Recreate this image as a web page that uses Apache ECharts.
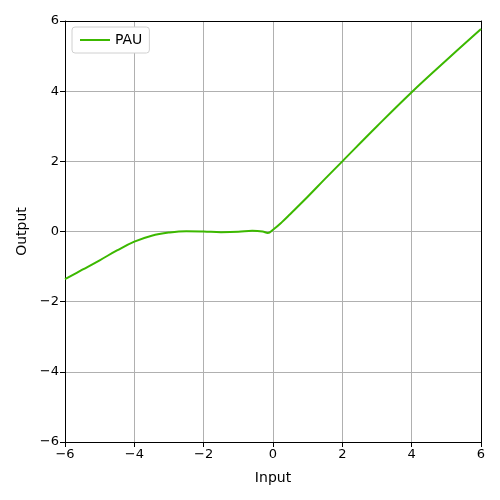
<!DOCTYPE html>
<html>
<head>
<meta charset="utf-8">
<script src="https://cdn.jsdelivr.net/npm/echarts@6/dist/echarts.min.js"></script>
<style>
  html, body { margin: 0; padding: 0; background: #fff; }
  #chart { width: 500px; height: 500px; }
</style>
</head>
<body>
<div id="chart"></div>
<script>
// values
const inputs = [-6, -5.5, -5, -4.5, -4, -3.5, -3, -2.5, -2, -1.5, -1, -0.6, -0.3, -0.15, 0, 0.25, 0.5, 1, 1.5, 2, 3, 4, 5, 6];
const outputs = [-1.36, -1.09, -0.82, -0.54, -0.29, -0.12, -0.03, 0.01, 0.0, -0.02, -0.01, 0.02, 0.0, -0.04, 0.05, 0.26, 0.5, 0.99, 1.5, 2.0, 3.0, 3.97, 4.88, 5.77];
const seriesName = 'PAU';

const fmt = v => (v < 0 ? '\u2212' + Math.abs(v) : String(v));
const font = 'DejaVu Sans';

const chart = echarts.init(document.getElementById('chart'));

const axisCommon = {
  type: 'value',
  min: -6,
  max: 6,
  interval: 2,
  nameLocation: 'middle',
  nameTextStyle: { color: '#000', fontSize: 14, fontFamily: font },
  axisLine: { show: true, onZero: false, lineStyle: { color: '#000', width: 1 } },
  axisTick: { show: true, length: 5, lineStyle: { color: '#000' } },
  axisLabel: { color: '#000', fontSize: 13, fontFamily: font, formatter: fmt, margin: 6 },
  splitLine: { show: true, lineStyle: { color: '#b0b0b0', width: 1 } }
};

// frame on the top and right side
const frameAxis = {
  type: 'value',
  min: -6,
  max: 6,
  interval: 2,
  axisLine: { show: true, onZero: false, lineStyle: { color: '#000', width: 1 } },
  axisTick: { show: false },
  axisLabel: { show: false },
  splitLine: { show: false }
};

chart.setOption({
  animation: false,
  grid: {
    left: 65,
    right: 19,
    top: 21,
    bottom: 58
  },
  legend: {
    left: 72,
    top: 27,
    itemWidth: 30,
    itemHeight: 2,
    itemGap: 10,
    padding: [6, 7, 6, 8],
    borderColor: '#d0d0d0',
    borderWidth: 1,
    borderRadius: 3,
    backgroundColor: '#fff',
    textStyle: { color: '#000', fontSize: 14, fontFamily: font },
    data: [{ name: seriesName, icon: 'rect' }]
  },
  xAxis: [
    Object.assign({}, axisCommon, { name: 'Input', nameGap: 29 }),
    Object.assign({}, frameAxis, { position: 'top' })
  ],
  yAxis: [
    Object.assign({}, axisCommon, { name: 'Output', nameGap: 36 }),
    Object.assign({}, frameAxis, { position: 'right' })
  ],
  series: [
    {
      name: seriesName,
      type: 'line',
      data: inputs.map((x, i) => [x, outputs[i]]),
      smooth: 0.4,
      showSymbol: false,
      lineStyle: { color: '#3cb800', width: 2 },
      itemStyle: { color: '#3cb800' }
    }
  ]
});
</script>
</body>
</html>
